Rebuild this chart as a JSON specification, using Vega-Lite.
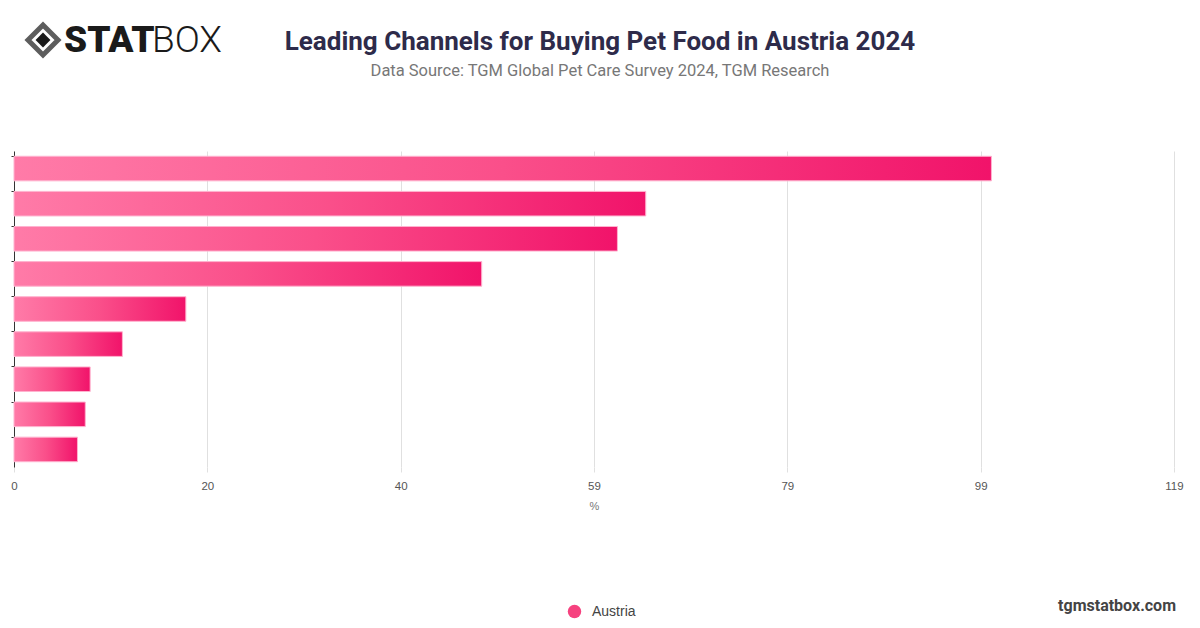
{
  "$schema": "https://vega.github.io/schema/vega-lite/v6.json",
  "autosize": {"type": "none"},
  "width": 1160,
  "height": 316,
  "padding": {"left": 14, "top": 151, "right": 26, "bottom": 161},
  "background": "#ffffff",
  "title": {
    "text": "Leading Channels for Buying Pet Food in Austria 2024",
    "subtitle": "Data Source: TGM Global Pet Care Survey 2024, TGM Research",
    "anchor": "middle",
    "dx": 6,
    "offset": -64,
    "font": "Roboto",
    "fontSize": 26,
    "fontWeight": "bold",
    "color": "#2e2b4a",
    "subtitleFont": "Roboto",
    "subtitleFontSize": 16.5,
    "subtitleColor": "#777777",
    "subtitlePadding": 8
  },
  "data": {
    "values": [
      {"channel": "Channel 1", "value": 100.1, "series": "Austria"},
      {"channel": "Channel 2", "value": 64.7, "series": "Austria"},
      {"channel": "Channel 3", "value": 61.8, "series": "Austria"},
      {"channel": "Channel 4", "value": 47.9, "series": "Austria"},
      {"channel": "Channel 5", "value": 17.6, "series": "Austria"},
      {"channel": "Channel 6", "value": 11.1, "series": "Austria"},
      {"channel": "Channel 7", "value": 7.8, "series": "Austria"},
      {"channel": "Channel 8", "value": 7.3, "series": "Austria"},
      {"channel": "Channel 9", "value": 6.5, "series": "Austria"}
    ]
  },
  "layer": [
    {
      "mark": {
        "type": "bar",
        "fill": {
          "gradient": "linear",
          "x1": 0, "y1": 0, "x2": 1, "y2": 0,
          "stops": [
            {"offset": 0, "color": "#ff7ba8"},
            {"offset": 0.5, "color": "#fa4f8a"},
            {"offset": 1, "color": "#f1136a"}
          ]
        },
        "stroke": "#ffb3cf",
        "strokeWidth": 1
      },
      "encoding": {
        "y": {
          "field": "channel",
          "type": "nominal",
          "sort": null,
          "scale": {"paddingInner": 0.3, "paddingOuter": 0.15},
          "axis": {
            "title": null,
            "labels": false,
            "bandPosition": 0,
            "tickSize": 3,
            "tickColor": "#333333",
            "domainColor": "#333333",
            "grid": false
          }
        },
        "x": {
          "field": "value",
          "type": "quantitative",
          "scale": {"domain": [0, 118.8], "nice": false},
          "axis": {
            "title": "%",
            "values": [0, 19.8, 39.6, 59.4, 79.2, 99, 118.8],
            "format": ".0f",
            "domain": false,
            "grid": true,
            "gridColor": "#e0e0e0",
            "tickColor": "#e0e0e0",
            "tickSize": 5,
            "labelColor": "#555555",
            "labelFont": "Liberation Sans",
            "labelFontSize": 11.5,
            "labelPadding": 8,
            "labelFlush": false,
            "titleColor": "#777777",
            "titleFont": "Liberation Sans",
            "titleFontSize": 11,
            "titleFontWeight": "normal",
            "titlePadding": 9
          }
        }
      }
    },
    {
      "mark": {"type": "point", "filled": true, "opacity": 0},
      "encoding": {
        "y": {"field": "channel", "type": "nominal", "sort": null},
        "x": {"datum": 0, "type": "quantitative"},
        "color": {
          "field": "series",
          "type": "nominal",
          "scale": {"range": ["#f6427f"]},
          "legend": {
            "title": null,
            "orient": "none",
            "legendX": 553,
            "legendY": 453,
            "symbolType": "circle",
            "symbolSize": 180,
            "symbolOpacity": 1,
            "labelOffset": 10,
            "labelFont": "Liberation Sans",
            "labelFontSize": 14,
            "labelColor": "#444444"
          }
        }
      }
    },
    {
      "data": {"values": [{"t": "outer"}]},
      "mark": {"type": "point", "shape": "diamond", "size": 900, "filled": false, "stroke": "#1a1a1a", "strokeWidth": 5},
      "encoding": {"x": {"value": 29}, "y": {"value": -111}}
    },
    {
      "data": {"values": [{"t": "inner"}]},
      "mark": {"type": "point", "shape": "diamond", "size": 220, "filled": true, "fill": "#1a1a1a", "opacity": 1},
      "encoding": {"x": {"value": 29}, "y": {"value": -111}}
    },
    {
      "data": {"values": [{"t": "STAT"}]},
      "mark": {"type": "text", "font": "Roboto", "fontSize": 37, "fontWeight": 900, "color": "#1a1a1a", "align": "left", "baseline": "middle"},
      "encoding": {"text": {"field": "t"}, "x": {"value": 50}, "y": {"value": -110}}
    },
    {
      "data": {"values": [{"t": "BOX"}]},
      "mark": {"type": "text", "font": "Roboto", "fontSize": 37, "fontWeight": 300, "color": "#1a1a1a", "align": "left", "baseline": "middle"},
      "encoding": {"text": {"field": "t"}, "x": {"value": 138}, "y": {"value": -110}}
    },
    {
      "data": {"values": [{"t": "tgmstatbox.com"}]},
      "mark": {"type": "text", "font": "Roboto", "fontSize": 16, "fontWeight": "bold", "color": "#444444", "align": "right", "baseline": "middle"},
      "encoding": {"text": {"field": "t"}, "x": {"value": 1162}, "y": {"value": 455}}
    }
  ],
  "config": {
    "view": {"stroke": null}
  }
}
